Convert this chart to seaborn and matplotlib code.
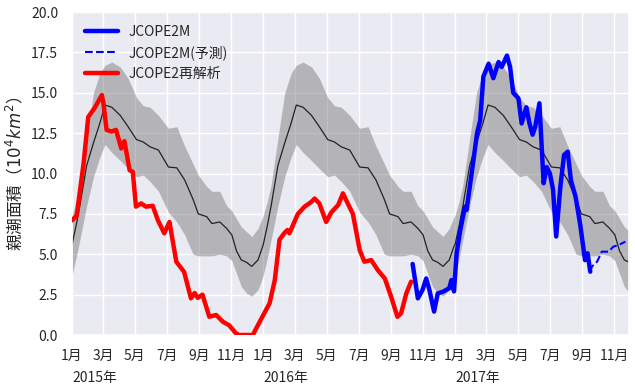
import numpy as np
import pandas as pd
import matplotlib
matplotlib.use("Agg")
import matplotlib.pyplot as plt
import matplotlib.dates as mdates
from matplotlib.ticker import FuncFormatter
import seaborn as sns

# ---------------- data ----------------
# climatology (day of year -> mean, mean+std, mean-std), repeated every year
clim_day = [0, 8, 15, 28, 41, 53, 63, 76, 92, 107, 123, 136, 149, 165, 184, 200,
            215, 231, 241, 257, 267, 282, 295, 305, 314, 323, 333, 343, 355, 364]
clim_mean = [5.6, 6.8, 8.0, 10.5, 11.9, 13.1, 14.24, 14.1, 13.6, 12.9, 12.1, 11.95,
             11.65, 11.45, 10.4, 10.35, 9.6, 8.4, 7.5, 7.33, 6.9, 7.0, 6.6, 6.2,
             5.2, 4.65, 4.5, 4.25, 4.65, 5.5]
clim_upper = [7.4, 8.3, 9.3, 12.2, 15.0, 16.2, 16.7, 16.9, 16.6, 15.9, 14.7, 14.2,
              14.1, 13.6, 12.8, 12.9, 11.7, 10.6, 9.9, 9.2, 8.9, 8.9, 8.0, 7.7,
              7.2, 6.7, 6.4, 6.1, 6.6, 7.3]
clim_lower = [3.7, 4.8, 5.9, 8.0, 9.8, 11.0, 11.8, 11.3, 10.8, 10.3, 9.8, 9.9,
              9.5, 8.9, 7.6, 7.0, 6.2, 5.0, 4.9, 4.9, 4.9, 5.0, 4.9, 4.6,
              3.8, 3.0, 2.6, 2.4, 2.8, 3.6]
clim_years = [2015, 2016, 2017]

# JCOPE2 reanalysis (red)
rean_dates = ["2015-01-01", "2015-01-10", "2015-01-23", "2015-02-01", "2015-02-14",
              "2015-02-27", "2015-03-02", "2015-03-08", "2015-03-17", "2015-03-26",
              "2015-04-05", "2015-04-11", "2015-04-21", "2015-04-27", "2015-05-03",
              "2015-05-13", "2015-05-22", "2015-06-04", "2015-06-14", "2015-06-26",
              "2015-07-06", "2015-07-19", "2015-08-03", "2015-08-16", "2015-08-23",
              "2015-08-29", "2015-09-07", "2015-09-20", "2015-10-03", "2015-10-16",
              "2015-10-28", "2015-11-10", "2015-11-16", "2015-12-12", "2015-12-27",
              "2016-01-13", "2016-01-23", "2016-02-01", "2016-02-10", "2016-02-16",
              "2016-02-20", "2016-03-07", "2016-03-20", "2016-04-02", "2016-04-08",
              "2016-04-17", "2016-04-30", "2016-05-10", "2016-05-23", "2016-06-01",
              "2016-06-07", "2016-06-20", "2016-07-03", "2016-07-12", "2016-07-25",
              "2016-08-07", "2016-08-20", "2016-09-01", "2016-09-13", "2016-09-20",
              "2016-09-30", "2016-10-09"]
rean_vals = [7.1, 7.4, 10.6, 13.5, 14.1, 14.86, 14.35, 12.7, 12.6, 12.7,
             11.55, 12.0, 10.2, 10.1, 7.95, 8.15, 7.95, 8.0, 7.1, 6.3,
             7.0, 4.54, 3.9, 2.27, 2.6, 2.3, 2.5, 1.13, 1.24, 0.82,
             0.6, 0.1, 0.0, 0.0, 0.93, 1.96, 3.4, 5.9, 6.3, 6.5,
             6.3, 7.5, 7.95, 8.25, 8.45, 8.15, 7.0, 7.6, 8.05, 8.77,
             8.36, 7.5, 5.26, 4.54, 4.64, 4.0, 3.5, 2.37, 1.13, 1.34,
             2.58, 3.3]

# JCOPE2M (blue, solid)
m_dates = ["2016-10-12", "2016-10-22", "2016-10-31", "2016-11-07", "2016-11-13",
           "2016-11-22", "2016-11-29", "2016-12-09", "2016-12-21", "2016-12-25",
           "2016-12-30", "2017-01-04", "2017-01-11", "2017-01-20", "2017-01-23",
           "2017-01-30", "2017-02-05", "2017-02-12", "2017-02-18", "2017-02-24",
           "2017-03-06", "2017-03-15", "2017-03-25", "2017-03-31", "2017-04-10",
           "2017-04-16", "2017-04-22", "2017-05-02", "2017-05-08", "2017-05-17",
           "2017-05-23", "2017-05-29", "2017-06-03", "2017-06-11", "2017-06-19",
           "2017-06-25", "2017-07-01", "2017-07-07", "2017-07-13", "2017-07-21",
           "2017-07-28", "2017-08-04", "2017-08-10", "2017-08-19", "2017-08-28",
           "2017-09-06", "2017-09-11", "2017-09-16"]
m_vals = [4.4, 2.27, 2.8, 3.5, 2.8, 1.45, 2.58, 2.68, 2.9, 3.4,
          2.7, 5.06, 6.5, 7.95, 7.74, 9.4, 10.8, 12.5, 13.3, 16.0,
          16.8, 15.9, 16.9, 16.6, 17.3, 16.6, 15.0, 14.65, 13.1, 14.1,
          13.1, 12.4, 12.9, 14.35, 9.4, 10.4, 10.0, 9.0, 6.1, 9.2,
          11.15, 11.35, 9.6, 8.56, 6.8, 4.64, 5.06, 3.92]

# JCOPE2M forecast (blue, dashed)
f_dates = ["2017-09-16", "2017-09-19", "2017-09-29", "2017-10-08", "2017-10-21",
           "2017-10-30", "2017-11-09", "2017-11-22"]
f_vals = [3.92, 4.23, 4.54, 5.16, 5.16, 5.47, 5.57, 5.78]

y_ticks = [0, 2.5, 5, 7.5, 10, 12.5, 15, 17.5, 20]
tick_months = [1, 3, 5, 7, 9, 11]
year_labels = ["2015年", "2016年", "2017年"]
legend_labels = ["JCOPE2M", "JCOPE2M(予測)", "JCOPE2再解析"]
y_label = "親潮面積（$10^4km^2$）"

# ---------------- build tables ----------------
clim_rows = []
for yr in clim_years:
    base = pd.Timestamp(f"{yr}-01-01")
    for d, m, u, l in zip(clim_day, clim_mean, clim_upper, clim_lower):
        clim_rows.append((base + pd.Timedelta(days=d), m, u, l))
clim = pd.DataFrame(clim_rows, columns=["date", "mean", "upper", "lower"])
rean = pd.DataFrame({"date": pd.to_datetime(rean_dates), "v": rean_vals})
jm = pd.DataFrame({"date": pd.to_datetime(m_dates), "v": m_vals})
fc = pd.DataFrame({"date": pd.to_datetime(f_dates), "v": f_vals})

# ---------------- style ----------------
sns.set_theme(style="darkgrid")
plt.rcParams["font.family"] = ["Noto Sans CJK JP", "DejaVu Sans"]
plt.rcParams["mathtext.fontset"] = "dejavusans"
plt.rcParams["axes.unicode_minus"] = False

fig = plt.figure(figsize=(6.35, 3.91), dpi=100)
ax = fig.add_axes([0.1134, 0.1432, 0.8772, 0.8261])

ax.fill_between(clim["date"], clim["lower"], clim["upper"], color="gray",
                alpha=0.5, linewidth=0, zorder=1)
sns.lineplot(data=clim, x="date", y="mean", ax=ax, color="#222222", lw=0.9,
             sort=False, estimator=None, zorder=2)
sns.lineplot(data=jm, x="date", y="v", ax=ax, color="blue", lw=3.2,
             sort=False, estimator=None, zorder=4)
sns.lineplot(data=fc, x="date", y="v", ax=ax, color="blue", lw=1.5,
             linestyle="--", sort=False, estimator=None, zorder=4)
sns.lineplot(data=rean, x="date", y="v", ax=ax, color="red", lw=3.2,
             sort=False, estimator=None, zorder=3)

lines = ax.get_lines()
h_m, h_f, h_r = lines[1], lines[2], lines[3]
ax.legend(handles=[h_m, h_f, h_r], labels=legend_labels, loc="upper left",
          frameon=False, fontsize=10, handlelength=2.4)

ax.set_xlim(pd.Timestamp("2015-01-01"), pd.Timestamp("2017-11-29"))
ax.set_ylim(0, 20)
ax.set_yticks(y_ticks)
ax.yaxis.set_major_formatter(FuncFormatter(lambda v, p: f"{v:.1f}"))
ax.xaxis.set_major_locator(mdates.MonthLocator(bymonth=tick_months))
ax.xaxis.set_major_formatter(FuncFormatter(
    lambda v, p: f"{mdates.num2date(v).month}月"))
ax.tick_params(axis="both", labelsize=10, pad=4)
ax.set_xlabel("")
ax.set_ylabel(y_label, fontsize=12)

for yr, lab in zip(clim_years, year_labels):
    ax.text(pd.Timestamp(f"{yr}-01-01"), -0.133, lab, ha="left", va="center",
            fontsize=10, transform=ax.get_xaxis_transform())

fig.savefig("out.png", dpi=100)
